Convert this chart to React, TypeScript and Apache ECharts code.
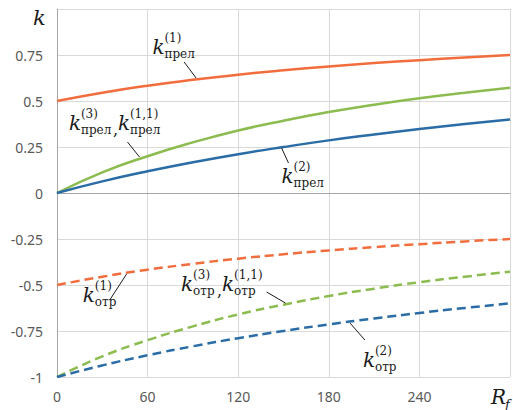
import React, { useEffect, useRef } from 'react';
import * as echarts from 'echarts';

// R_f sample positions (x axis)
const rfValues = [0, 30, 60, 90, 120, 150, 180, 210, 240, 270, 300];
// solid curves (k_прел)
const kPrel1 = [0.5, 0.545, 0.583, 0.615, 0.643, 0.667, 0.688, 0.706, 0.722, 0.737, 0.75];
const kPrel3 = [0, 0.112, 0.2, 0.275, 0.34, 0.393, 0.44, 0.48, 0.515, 0.545, 0.572];
const kPrel2 = [0, 0.063, 0.118, 0.167, 0.211, 0.25, 0.286, 0.318, 0.348, 0.375, 0.4];
// dashed curves (k_отр)
const kOtr1 = [-0.5, -0.455, -0.417, -0.385, -0.357, -0.333, -0.312, -0.294, -0.278, -0.263, -0.25];
const kOtr3 = [-1, -0.888, -0.8, -0.725, -0.66, -0.607, -0.56, -0.52, -0.485, -0.455, -0.428];
const kOtr2 = [-1, -0.937, -0.882, -0.833, -0.789, -0.75, -0.714, -0.682, -0.652, -0.625, -0.6];

const xMin = 0;
const xMax = 300;
const xStep = 60;
const yMin = -1;
const yMax = 1;
const yStep = 0.25;

const ORANGE = '#F26D3D';
const GREEN = '#8CBB4F';
const BLUE = '#2A6CA5';

type Annot = {
  base: string;
  sups: string[];
  at: [number, number];
  leader: [[number, number], [number, number]];
};

const annotations: Annot[] = [
  { base: 'прел', sups: ['(1)'], at: [63.2, 0.791], leader: [[84.2, 0.712], [92.1, 0.625]] },
  { base: 'прел', sups: ['(3)', '(1,1)'], at: [7.9, 0.38], leader: [[46.7, 0.277], [54.6, 0.196]] },
  { base: 'прел', sups: ['(2)'], at: [148.7, 0.092], leader: [[148.7, 0.245], [153.3, 0.163]] },
  { base: 'отр', sups: ['(1)'], at: [17.1, -0.554], leader: [[34.9, -0.582], [46.1, -0.44]] },
  { base: 'отр', sups: ['(3)', '(1,1)'], at: [82.2, -0.495], leader: [[138.8, -0.538], [151.3, -0.598]] },
  { base: 'отр', sups: ['(2)'], at: [202.6, -0.908], leader: [[194.1, -0.707], [203.9, -0.799]] },
];

const pairs = (ys: number[]) => rfValues.map((x, i) => [x, ys[i]]);

const SERIF = "'DejaVu Serif', 'Liberation Serif', serif";
const SANS = "'Noto Sans', 'Liberation Sans', sans-serif";

function buildLabel(a: Annot, px: number[]) {
  const subW = a.base === 'прел' ? 31 : 23;
  const stride = 12 + subW + 6;
  const children: any[] = [];
  a.sups.forEach((s, i) => {
    const kx = i * stride;
    children.push({
      type: 'text', x: kx, y: 0,
      style: { text: 'k', font: `italic 20px ${SERIF}`, fill: '#1a1a1a', verticalAlign: 'middle', align: 'left' },
    });
    children.push({
      type: 'text', x: kx + 12, y: -9,
      style: { text: s, font: `12px ${SERIF}`, fill: '#1a1a1a', verticalAlign: 'middle', align: 'left' },
    });
    children.push({
      type: 'text', x: kx + 12, y: 7,
      style: { text: a.base, font: `12px ${SERIF}`, fill: '#1a1a1a', verticalAlign: 'middle', align: 'left' },
    });
    if (i < a.sups.length - 1) {
      children.push({
        type: 'text', x: kx + 13 + subW, y: 6,
        style: { text: ',', font: `16px ${SERIF}`, fill: '#1a1a1a', verticalAlign: 'middle', align: 'left' },
      });
    }
  });
  return { type: 'group', x: px[0], y: px[1], children };
}

export default function App() {
  const ref = useRef<HTMLDivElement>(null);
  useEffect(() => {
    if (!ref.current) return;
    const chart = echarts.init(ref.current, undefined, { renderer: 'svg' });
    const lineSeries = (ys: number[], color: string, dashed: boolean) => ({
      type: 'line',
      data: pairs(ys),
      smooth: true,
      symbol: 'none',
      xAxisIndex: 0,
      lineStyle: { color, width: 2.5, type: dashed ? [9, 5] : 'solid' },
      z: 3,
    });
    chart.setOption({
      animation: false,
      grid: { left: 57, right: 0, top: 9, bottom: 33 },
      xAxis: [
        {
          type: 'value', min: xMin, max: xMax, interval: xStep,
          axisLine: { show: false, onZero: false },
          axisTick: { show: false },
          axisLabel: {
            margin: 12, color: '#595959', fontFamily: SANS, fontSize: 14,
            formatter: (v: number) => (v === xMax ? '' : String(v)),
          },
          splitLine: { show: true, lineStyle: { color: '#d9d9d9', width: 1 } },
        },
        {
          type: 'value', min: xMin, max: xMax, position: 'bottom',
          axisLine: { show: true, onZero: true, lineStyle: { color: '#a6a6a6', width: 1 } },
          axisTick: { show: false },
          axisLabel: { show: false },
          splitLine: { show: false },
        },
      ],
      yAxis: {
        type: 'value', min: yMin, max: yMax, interval: yStep,
        axisLine: { show: true, lineStyle: { color: '#a6a6a6', width: 1 } },
        axisTick: { show: false },
        axisLabel: {
          margin: 14, color: '#595959', fontFamily: SANS, fontSize: 14,
          formatter: (v: number) => (v === yMax ? '' : String(v)),
        },
        splitLine: { show: true, lineStyle: { color: '#d9d9d9', width: 1 } },
      },
      series: [
        lineSeries(kPrel1, ORANGE, false),
        lineSeries(kPrel3, GREEN, false),
        lineSeries(kPrel2, BLUE, false),
        lineSeries(kOtr1, ORANGE, true),
        lineSeries(kOtr3, GREEN, true),
        lineSeries(kOtr2, BLUE, true),
      ],
    });

    const toPx = (p: [number, number]) => chart.convertToPixel({ gridIndex: 0 }, p) as number[];
    const graphics: any[] = [];
    annotations.forEach((a) => {
      graphics.push(buildLabel(a, toPx(a.at)));
      const p1 = toPx(a.leader[0]);
      const p2 = toPx(a.leader[1]);
      graphics.push({
        type: 'line',
        shape: { x1: p1[0], y1: p1[1], x2: p2[0], y2: p2[1] },
        style: { stroke: '#1a1a1a', lineWidth: 1 },
        z: 10,
      });
    });
    // axis titles
    const topLeft = toPx([xMin, yMax]);
    graphics.push({
      type: 'text', x: topLeft[0] - 24, y: topLeft[1] + 9,
      style: { text: 'k', font: `italic 21px ${SERIF}`, fill: '#1a1a1a', verticalAlign: 'middle', align: 'left' },
    });
    const bottomRight = toPx([xMax, yMin]);
    graphics.push({
      type: 'text', x: bottomRight[0] - 19, y: bottomRight[1] + 20,
      style: { text: 'R', font: `italic 20px ${SERIF}`, fill: '#1a1a1a', verticalAlign: 'middle', align: 'left' },
    });
    graphics.push({
      type: 'text', x: bottomRight[0] - 5, y: bottomRight[1] + 27,
      style: { text: 'f', font: `italic 13px ${SERIF}`, fill: '#1a1a1a', verticalAlign: 'middle', align: 'left' },
    });
    chart.setOption({ graphic: graphics });

    return () => chart.dispose();
  }, []);
  return (
    <div
      ref={ref}
      style={{ position: 'fixed', left: 0, top: 0, width: 513, height: 410, background: '#fff' }}
    />
  );
}
